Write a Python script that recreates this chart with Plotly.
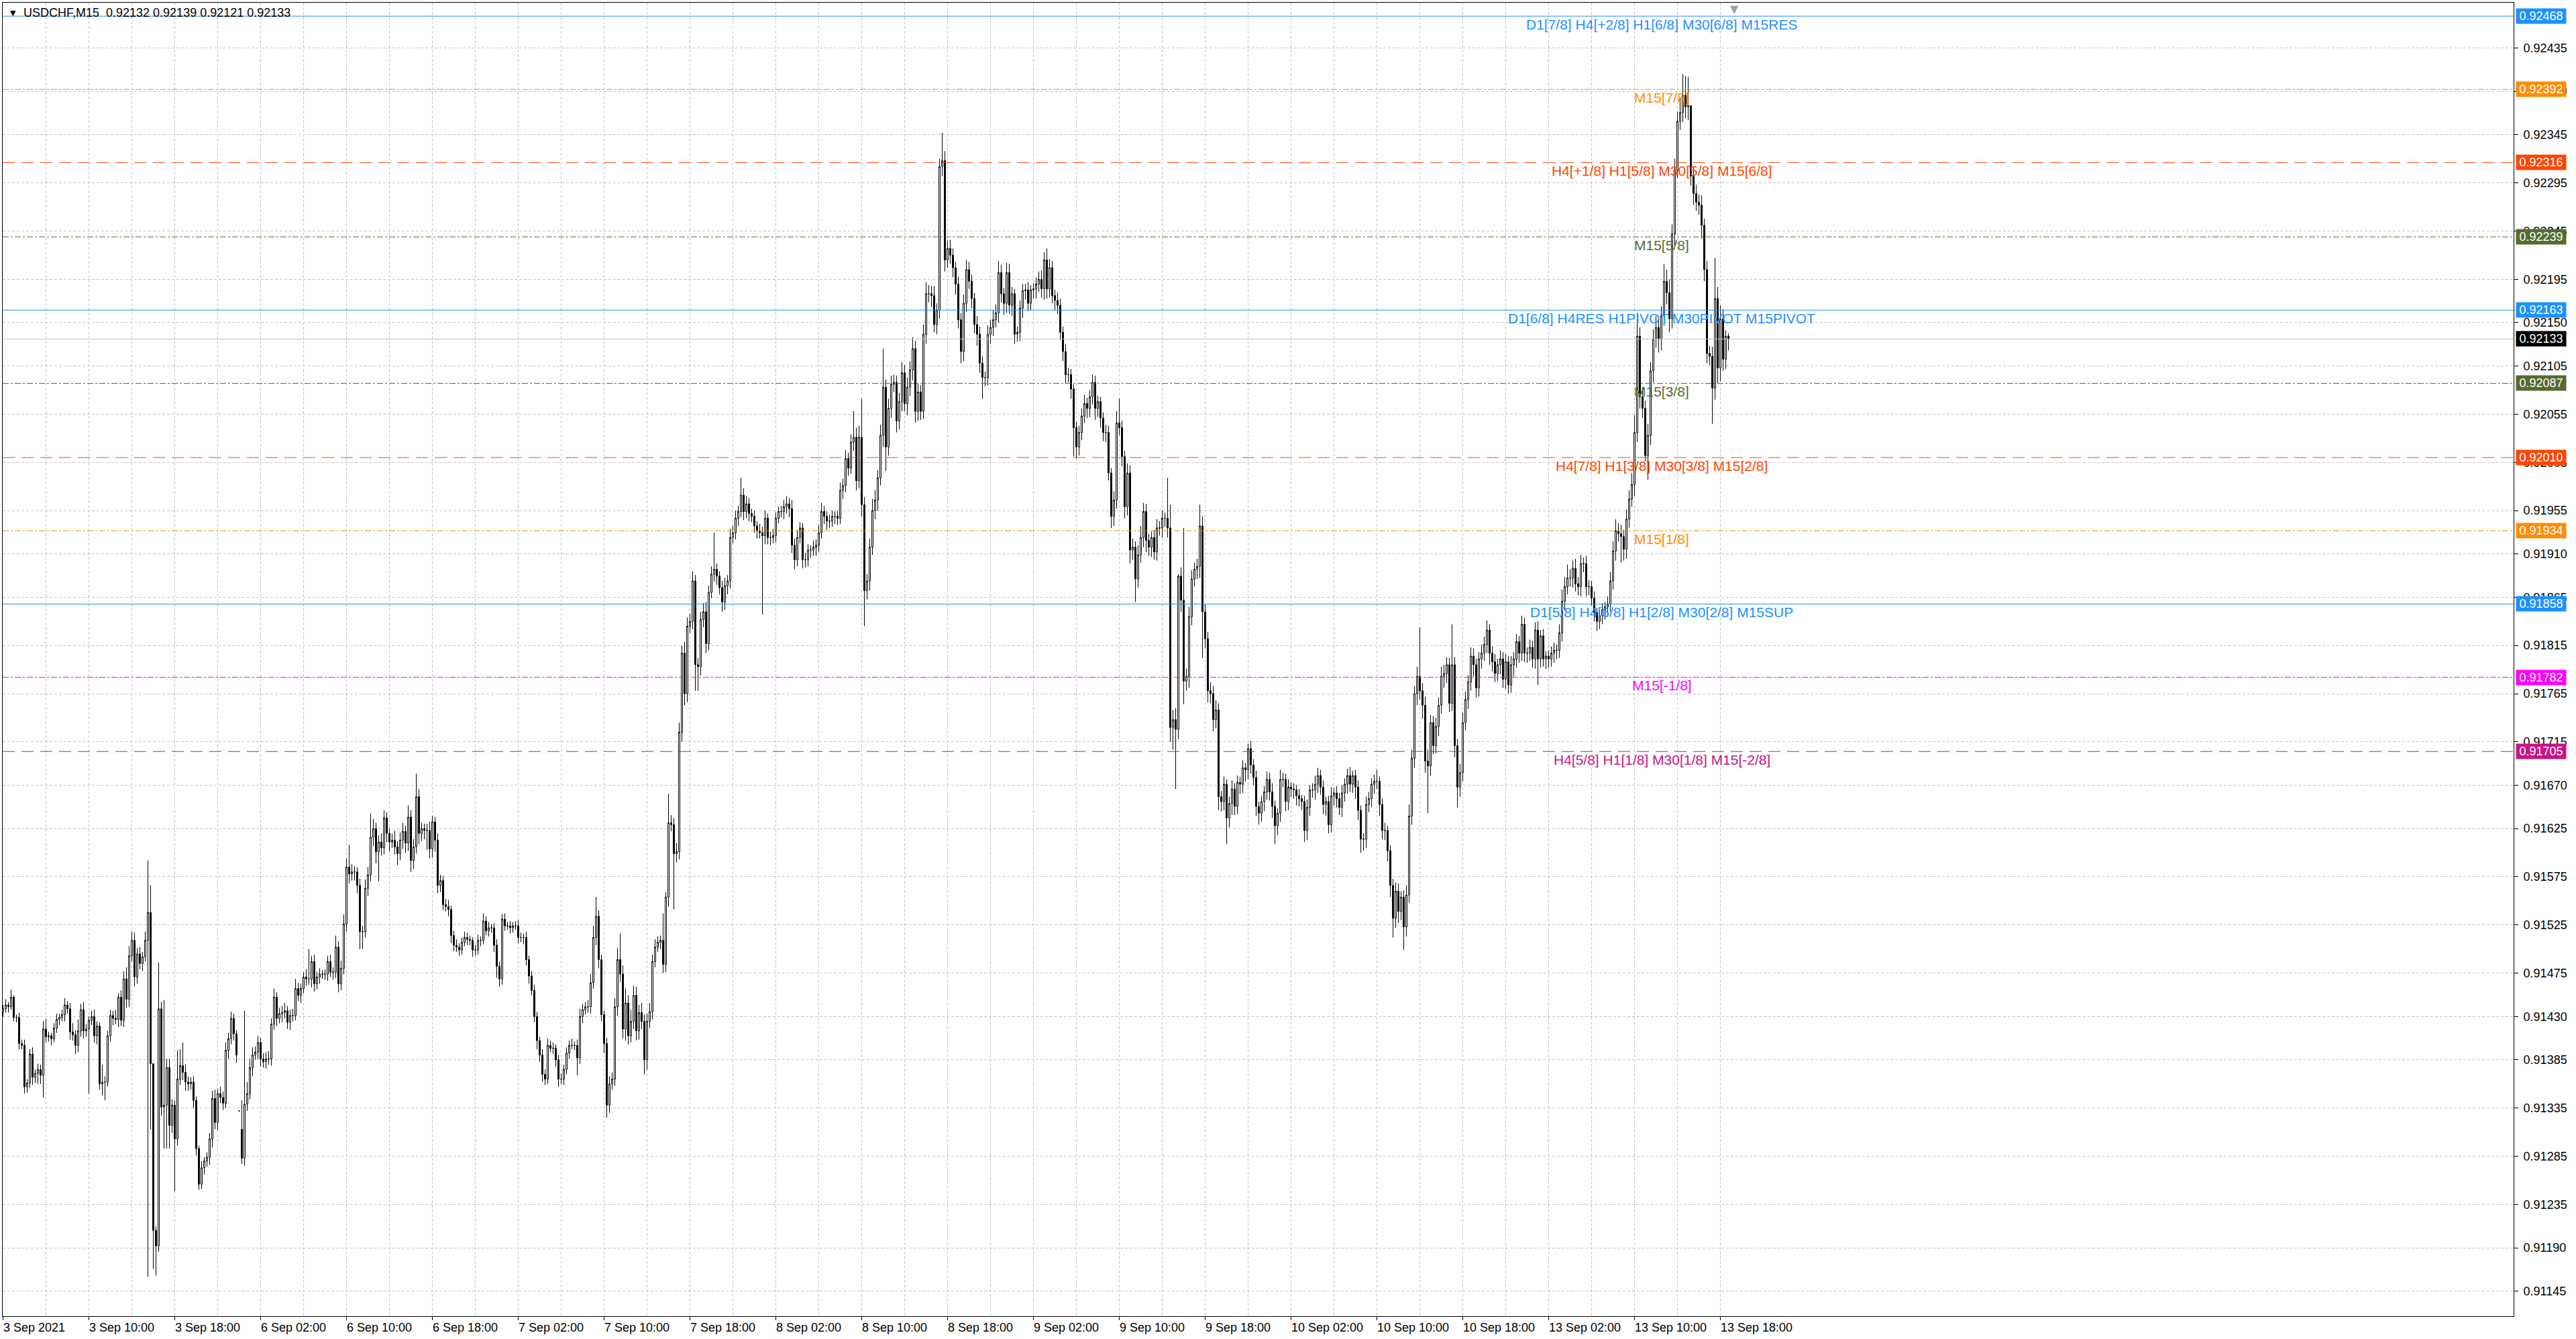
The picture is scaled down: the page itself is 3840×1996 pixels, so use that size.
import pandas as pd
import plotly.graph_objects as go

# USDCHF M15, broker time. Prices kept in points above 0.91000 (1 point = 0.00001)
sessions = [("2021-09-03 02:00", 88), ("2021-09-06 00:00", 96), ("2021-09-07 00:00", 96),
            ("2021-09-08 00:00", 96), ("2021-09-09 00:00", 96), ("2021-09-10 00:00", 96),
            ("2021-09-13 00:00", 76)]

close_pts = [
    438, 442, 440, 450, 429, 429, 402, 400, 357, 361,
    391, 367, 371, 375, 369, 417, 409, 410, 407, 418,
    427, 429, 432, 442, 438, 414, 411, 400, 415, 437,
    415, 417, 426, 430, 410, 420, 360, 362, 362, 410,
    431, 428, 427, 450, 426, 469, 448, 493, 509, 471,
    495, 485, 492, 509, 538, 381, 208, 192, 438, 336,
    338, 377, 317, 338, 303, 365, 379, 372, 362, 360,
    362, 343, 293, 256, 273, 280, 284, 303, 345, 320,
    350, 346, 340, 395, 407, 428, 412, 390, 332, 283,
    339, 350, 377, 390, 393, 403, 386, 383, 386, 386,
    422, 450, 428, 433, 434, 436, 424, 431, 431, 459,
    452, 459, 471, 469, 469, 487, 464, 471, 474, 474,
    474, 487, 476, 476, 502, 464, 480, 526, 585, 578,
    580, 580, 566, 518, 518, 563, 577, 616, 625, 601,
    611, 605, 636, 620, 611, 613, 606, 599, 613, 622,
    610, 637, 592, 606, 658, 620, 625, 623, 623, 604,
    632, 613, 566, 571, 546, 544, 541, 514, 504, 502,
    499, 507, 512, 510, 509, 499, 499, 509, 509, 529,
    519, 522, 522, 504, 482, 469, 531, 524, 524, 522,
    524, 524, 512, 512, 512, 489, 472, 457, 430, 405,
    390, 370, 365, 400, 397, 397, 385, 365, 365, 375,
    392, 400, 400, 400, 387, 430, 437, 440, 440, 465,
    512, 534, 489, 432, 402, 338, 360, 365, 440, 489,
    474, 417, 444, 410, 425, 452, 415, 434, 425, 385,
    425, 435, 487, 502, 507, 509, 484, 554, 631, 629,
    599, 601, 725, 807, 765, 835, 840, 882, 795, 793,
    842, 850, 817, 870, 889, 894, 887, 875, 860, 877,
    882, 927, 932, 947, 954, 971, 954, 962, 952, 949,
    939, 934, 932, 929, 947, 927, 927, 929, 947, 954,
    954, 959, 962, 957, 919, 904, 927, 937, 904, 904,
    914, 914, 917, 919, 932, 954, 949, 944, 944, 949,
    949, 947, 976, 981, 1009, 999, 1026, 1031, 986, 1031,
    961, 872, 882, 917, 955, 966, 989, 1033, 1083, 1021,
    1061, 1086, 1088, 1048, 1068, 1098, 1066, 1083, 1101, 1123,
    1058, 1078, 1058, 1138, 1180, 1180, 1178, 1148, 1163, 1312,
    1318, 1215, 1227, 1220, 1207, 1190, 1153, 1120, 1170, 1205,
    1193, 1175, 1148, 1138, 1108, 1093, 1093, 1138, 1145, 1153,
    1160, 1202, 1180, 1170, 1202, 1168, 1180, 1138, 1140, 1165,
    1183, 1184, 1170, 1184, 1185, 1190, 1195, 1185, 1215, 1185,
    1207, 1178, 1173, 1168, 1140, 1120, 1096, 1096, 1081, 1041,
    1021, 1036, 1053, 1066, 1061, 1073, 1088, 1061, 1068, 1051,
    1036, 1036, 994, 949, 966, 1046, 1041, 1011, 959, 994,
    914, 917, 884, 909, 927, 954, 924, 917, 927, 912,
    937, 937, 947, 947, 937, 730, 738, 728, 887, 862,
    778, 783, 845, 884, 894, 897, 939, 850, 822, 768,
    765, 738, 748, 658, 653, 671, 636, 651, 666, 648,
    673, 671, 688, 686, 708, 691, 678, 648, 641, 653,
    663, 676, 663, 648, 628, 641, 676, 676, 653, 668,
    666, 665, 659, 656, 653, 623, 647, 665, 665, 671,
    680, 668, 650, 653, 629, 659, 662, 656, 647, 662,
    671, 680, 671, 680, 668, 644, 614, 614, 650, 656,
    671, 674, 674, 650, 623, 623, 602, 566, 532, 560,
    539, 554, 523, 556, 638, 698, 765, 783, 768, 753,
    695, 690, 735, 711, 731, 753, 783, 786, 795, 755,
    795, 711, 668, 683, 735, 759, 777, 804, 795, 771,
    801, 807, 816, 831, 807, 798, 786, 795, 801, 780,
    798, 774, 795, 801, 819, 807, 837, 807, 807, 813,
    801, 831, 801, 825, 801, 804, 801, 807, 810, 810,
    828, 861, 876, 885, 885, 895, 879, 876, 900, 900,
    876, 876, 864, 849, 840, 846, 852, 855, 858, 882,
    913, 934, 931, 928, 915, 946, 967, 982, 1036, 1136,
    1073, 1061, 1012, 1033, 1100, 1133, 1145, 1133, 1157, 1193,
    1181, 1154, 1242, 1308, 1359, 1368, 1386, 1374, 1375, 1302,
    1284, 1275, 1272, 1251, 1205, 1118, 1115, 1082, 1175, 1103,
    1154, 1112, 1136, 1133,
]

# upper / lower shadow length of each candle, in points
wick_up = [
    4, 6, 3, 8, 2, 3, 5, 4, 6, 4,
    5, 7, 4, 6, 5, 8, 10, 4, 3, 5,
    6, 4, 5, 7, 4, 6, 9, 5, 12, 6,
    8, 5, 4, 6, 7, 5, 4, 18, 6, 5,
    6, 5, 9, 4, 7, 8, 12, 10, 9, 8,
    6, 7, 5, 9, 54, 28, 0, 4, 48, 7,
    109, 9, 9, 6, 5, 30, 17, 24, 8, 6,
    5, 6, 4, 3, 7, 4, 5, 6, 8, 9,
    5, 7, 6, 8, 6, 7, 5, 4, 0, 30,
    97, 12, 9, 8, 6, 7, 5, 6, 7, 8,
    6, 9, 5, 6, 7, 8, 5, 6, 7, 10,
    6, 5, 5, 8, 31, 6, 7, 5, 6, 4,
    5, 6, 7, 5, 12, 6, 8, 10, 9, 23,
    8, 6, 5, 7, 6, 9, 8, 25, 10, 6,
    7, 9, 8, 6, 5, 7, 10, 6, 8, 9,
    6, 12, 7, 8, 24, 8, 6, 5, 7, 9,
    6, 5, 7, 6, 5, 6, 7, 4, 5, 6,
    4, 5, 6, 5, 4, 3, 5, 6, 4, 8,
    5, 6, 4, 5, 6, 5, 5, 6, 4, 5,
    4, 5, 6, 5, 4, 6, 4, 5, 6, 5,
    4, 6, 5, 7, 5, 6, 4, 5, 6, 5,
    6, 5, 7, 4, 6, 8, 6, 5, 7, 9,
    12, 20, 6, 5, 4, 6, 8, 7, 9, 12,
    27, 9, 15, 8, 12, 10, 9, 8, 10, 7,
    8, 9, 7, 8, 6, 5, 28, 5, 30, 8,
    7, 9, 10, 8, 12, 9, 8, 10, 6, 7,
    8, 9, 10, 7, 8, 38, 6, 5, 7, 8,
    6, 9, 7, 8, 6, 18, 7, 8, 6, 5,
    6, 5, 7, 6, 8, 5, 6, 7, 6, 5,
    6, 7, 8, 6, 9, 7, 8, 6, 5, 7,
    6, 5, 7, 6, 8, 9, 6, 5, 7, 6,
    5, 6, 8, 7, 9, 6, 8, 27, 10, 12,
    40, 8, 7, 9, 12, 10, 8, 11, 40, 8,
    10, 9, 8, 7, 9, 11, 8, 10, 9, 12,
    8, 9, 7, 10, 12, 9, 8, 10, 7, 8,
    29, 10, 8, 9, 7, 6, 8, 7, 9, 10,
    8, 7, 6, 9, 8, 7, 6, 9, 8, 10,
    9, 12, 8, 6, 10, 9, 7, 5, 6, 8,
    7, 6, 8, 5, 6, 7, 8, 9, 8, 12,
    9, 7, 6, 8, 7, 6, 8, 7, 6, 5,
    6, 7, 8, 9, 6, 7, 8, 7, 6, 5,
    6, 8, 7, 5, 9, 12, 25, 7, 6, 10,
    8, 9, 6, 10, 12, 9, 8, 7, 6, 8,
    9, 7, 8, 6, 42, 24, 10, 12, 2, 9,
    75, 8, 10, 9, 7, 8, 22, 10, 8, 7,
    9, 8, 10, 7, 6, 8, 5, 7, 9, 6,
    7, 6, 8, 5, 5, 8, 6, 7, 5, 6,
    6, 8, 7, 9, 6, 5, 10, 7, 6, 8,
    5, 6, 5, 7, 4, 6, 8, 5, 7, 9,
    8, 6, 7, 5, 6, 9, 5, 7, 6, 8,
    6, 7, 9, 5, 6, 7, 5, 6, 8, 7,
    6, 7, 12, 5, 6, 8, 5, 6, 7, 9,
    8, 6, 7, 10, 12, 9, 8, 10, 51, 8,
    9, 12, 8, 7, 9, 8, 10, 9, 8, 7,
    42, 8, 7, 9, 10, 8, 7, 9, 8, 6,
    7, 9, 8, 10, 6, 7, 8, 6, 9, 7,
    8, 6, 9, 7, 8, 6, 9, 7, 6, 8,
    7, 8, 9, 6, 7, 5, 6, 7, 8, 6,
    9, 12, 10, 14, 9, 8, 10, 7, 9, 6,
    8, 7, 6, 7, 5, 6, 7, 5, 8, 9,
    10, 12, 8, 9, 7, 10, 9, 12, 18, 24,
    9, 10, 8, 12, 9, 10, 12, 8, 10, 18,
    12, 14, 10, 12, 10, 15, 22, 20, 30, 0,
    10, 9, 8, 10, 7, 9, 8, 10, 42, 12,
    14, 10, 6, 3,
]

wick_dn = [
    5, 4, 6, 3, 4, 5, 6, 4, 7, 6,
    5, 8, 6, 11, 9, 23, 6, 5, 7, 4,
    5, 6, 4, 7, 5, 8, 6, 9, 7, 6,
    8, 6, 67, 5, 7, 9, 6, 12, 19, 5,
    6, 7, 5, 8, 6, 7, 9, 8, 6, 10,
    7, 6, 8, 5, 349, 68, 40, 31, 6, 9,
    43, 45, 24, 8, 54, 7, 6, 8, 9, 7,
    6, 8, 7, 6, 5, 7, 6, 8, 9, 7,
    8, 6, 7, 5, 9, 6, 7, 8, 0, 6,
    8, 7, 6, 9, 5, 7, 8, 6, 7, 6,
    7, 6, 8, 5, 9, 6, 7, 8, 6, 5,
    6, 8, 5, 7, 6, 9, 8, 6, 7, 5,
    6, 7, 5, 8, 6, 9, 7, 6, 8, 10,
    7, 9, 8, 18, 18, 6, 8, 7, 9, 12,
    31, 8, 7, 9, 10, 6, 8, 12, 7, 9,
    10, 8, 12, 9, 7, 11, 8, 9, 20, 10,
    9, 12, 8, 7, 6, 5, 7, 8, 6, 5,
    6, 5, 4, 6, 5, 7, 6, 5, 6, 4,
    5, 6, 5, 7, 12, 8, 6, 5, 4, 6,
    5, 4, 6, 5, 7, 6, 8, 5, 6, 9,
    7, 8, 6, 5, 4, 6, 7, 8, 5, 6,
    5, 6, 4, 5, 18, 6, 7, 5, 6, 7,
    6, 8, 9, 7, 10, 13, 8, 6, 7, 9,
    8, 10, 12, 9, 7, 8, 10, 9, 8, 15,
    10, 7, 8, 6, 5, 7, 9, 8, 10, 7,
    58, 9, 8, 10, 12, 9, 7, 8, 27, 25,
    9, 8, 10, 7, 6, 8, 9, 7, 10, 8,
    9, 8, 6, 7, 8, 6, 9, 7, 8, 6,
    7, 8, 6, 82, 9, 7, 8, 6, 7, 5,
    6, 8, 7, 9, 8, 10, 7, 6, 9, 8,
    7, 8, 6, 9, 7, 6, 8, 9, 7, 6,
    8, 7, 6, 9, 7, 8, 6, 9, 10, 8,
    12, 37, 9, 10, 8, 9, 11, 8, 12, 25,
    9, 10, 8, 12, 9, 10, 8, 12, 9, 11,
    12, 10, 9, 8, 10, 9, 12, 8, 10, 9,
    10, 12, 8, 9, 10, 11, 9, 12, 10, 9,
    8, 10, 9, 12, 10, 22, 9, 8, 10, 9,
    8, 10, 9, 12, 10, 9, 11, 10, 8, 9,
    10, 9, 8, 7, 9, 10, 8, 9, 11, 10,
    9, 8, 10, 9, 8, 10, 9, 8, 10, 30,
    12, 9, 8, 7, 10, 9, 8, 12, 9, 10,
    9, 10, 8, 12, 10, 9, 8, 10, 12, 9,
    14, 10, 24, 9, 8, 10, 12, 9, 10, 8,
    9, 8, 10, 9, 10, 15, 23, 62, 10, 12,
    24, 10, 12, 9, 8, 10, 12, 48, 10, 12,
    10, 12, 9, 14, 10, 9, 27, 10, 12, 9,
    8, 10, 9, 12, 10, 9, 8, 10, 12, 9,
    10, 8, 9, 12, 19, 10, 9, 8, 10, 9,
    8, 9, 10, 8, 9, 12, 10, 9, 8, 10,
    9, 8, 10, 12, 9, 8, 10, 9, 8, 10,
    9, 10, 8, 9, 12, 10, 14, 12, 9, 8,
    9, 10, 8, 12, 9, 10, 11, 12, 20, 10,
    12, 9, 24, 10, 8, 9, 10, 12, 9, 14,
    12, 49, 10, 9, 8, 10, 9, 12, 10, 9,
    8, 12, 21, 10, 9, 8, 10, 9, 12, 10,
    9, 10, 8, 9, 12, 10, 9, 8, 10, 9,
    10, 9, 8, 12, 9, 10, 8, 9, 10, 8,
    9, 10, 27, 9, 8, 10, 9, 8, 10, 9,
    8, 9, 10, 8, 9, 10, 8, 9, 10, 9,
    10, 9, 8, 9, 10, 8, 9, 10, 9, 8,
    9, 10, 8, 27, 12, 10, 9, 8, 12, 10,
    12, 10, 6, 25, 10, 12, 9, 14, 12, 10,
    12, 14, 10, 12, 8, 9, 10, 12, 14, 10,
    12, 9, 10, 14, 12, 10, 9, 37, 12, 16,
    14, 12, 10, 12,
]

first_open_pts = 435
gap_opens_pts = {88: 332, 89: 313}   # Monday re-open

x_tick_labels = ["3 Sep 2021", "3 Sep 10:00", "3 Sep 18:00", "6 Sep 02:00", "6 Sep 10:00",
                 "6 Sep 18:00", "7 Sep 02:00", "7 Sep 10:00", "7 Sep 18:00", "8 Sep 02:00",
                 "8 Sep 10:00", "8 Sep 18:00", "9 Sep 02:00", "9 Sep 10:00", "9 Sep 18:00",
                 "10 Sep 02:00", "10 Sep 10:00", "10 Sep 18:00", "13 Sep 02:00", "13 Sep 10:00",
                 "13 Sep 18:00"]

y_tick_labels = ["0.92435", "0.92390", "0.92345", "0.92295", "0.92245", "0.92195", "0.92150",
                 "0.92105", "0.92055", "0.92005", "0.91955", "0.91910", "0.91865", "0.91815",
                 "0.91765", "0.91715", "0.91670", "0.91625", "0.91575", "0.91525", "0.91475",
                 "0.91430", "0.91385", "0.91335", "0.91285", "0.91235", "0.91190", "0.91145"]

level_prices = [0.92468, 0.92392, 0.92316, 0.92239, 0.92163, 0.92087,
                0.92010, 0.91934, 0.91858, 0.91782, 0.91705]
level_texts = ["D1[7/8] H4[+2/8] H1[6/8] M30[6/8] M15RES",
               "M15[7/8]",
               "H4[+1/8] H1[5/8] M30[5/8] M15[6/8]",
               "M15[5/8]",
               "D1[6/8] H4RES H1PIVOT M30PIVOT M15PIVOT",
               "M15[3/8]",
               "H4[7/8] H1[3/8] M30[3/8] M15[2/8]",
               "M15[1/8]",
               "D1[5/8] H4[6/8] H1[2/8] M30[2/8] M15SUP",
               "M15[-1/8]",
               "H4[5/8] H1[1/8] M30[1/8] M15[-2/8]"]

title_text = "USDCHF,M15  0.92132 0.92139 0.92121 0.92133"

# ---- styles ----
BLUE, ORANGE, ORED, OLIVE, MAGENTA, MVRED = "#1E90FF", "#FF8C00", "#FF4500", "#556B2F", "#FF00FF", "#C71585"
LONGDASH = "18px,10px"
level_style = [(BLUE, "solid"), (ORANGE, "dashdot"), (ORED, LONGDASH), (OLIVE, "dashdot"),
               (BLUE, "solid"), (OLIVE, "dashdot"), (ORED, LONGDASH), (ORANGE, "dashdot"),
               (BLUE, "solid"), (MAGENTA, "dashdot"), (MVRED, LONGDASH)]
GRID = "#c4c4c4"
AXFONT = dict(family="Liberation Sans, Arial, sans-serif", size=18, color="black")

times = []
for start, n in sessions:
    times += list(pd.date_range(start, periods=n, freq="15min").strftime("%Y-%m-%d %H:%M"))

n = len(times)
assert len(close_pts) == n and len(wick_up) == n and len(wick_dn) == n, (n, len(close_pts), len(wick_up), len(wick_dn))

open_pts = []
for i in range(n):
    if i == 0:
        open_pts.append(first_open_pts)
    else:
        open_pts.append(gap_opens_pts.get(i, close_pts[i - 1]))

def px(p):
    return round(0.91 + p / 100000, 5)

opens = [px(o) for o in open_pts]
closes = [px(c) for c in close_pts]
highs = [px(max(o, c) + u) for o, c, u in zip(open_pts, close_pts, wick_up)]
lows = [px(min(o, c) - d) for o, c, d in zip(open_pts, close_pts, wick_dn)]

fig = go.Figure()
fig.add_trace(go.Candlestick(
    x=times, open=opens, high=highs, low=lows, close=closes,
    increasing=dict(fillcolor="white", line=dict(color="black", width=1)),
    decreasing=dict(fillcolor="black", line=dict(color="black", width=1)),
    whiskerwidth=0, showlegend=False, hoverinfo="x+y",
))

shapes = []
annotations = []

# level lines, their captions and right-hand price boxes
for price, text, (color, dash) in zip(level_prices, level_texts, level_style):
    shapes.append(dict(type="line", xref="paper", x0=0, x1=1, yref="y", y0=price, y1=price,
                       line=dict(color=color, width=1, dash=dash)))
    annotations.append(dict(xref="paper", x=0.6607, xanchor="center", yref="y", y=price,
                            yanchor="middle", yshift=-12, text=text, showarrow=False,
                            font=dict(family="Liberation Sans, Arial, sans-serif", size=21, color=color)))
    annotations.append(dict(xref="paper", x=1, xanchor="left", xshift=3, yref="y", y=price,
                            yanchor="middle", text=f"{price:.5f}", showarrow=False, bgcolor=color,
                            width=72, height=20, borderpad=1,
                            font=dict(family="Liberation Sans, Arial, sans-serif", size=18, color="white")))

# current bid line
last = closes[-1]
shapes.append(dict(type="line", xref="paper", x0=0, x1=1, yref="y", y0=last, y1=last,
                   line=dict(color="#C0C0C0", width=1)))
annotations.append(dict(xref="paper", x=1, xanchor="left", xshift=3, yref="y", y=last,
                        yanchor="middle", text=f"{last:.5f}", showarrow=False, bgcolor="black",
                        width=72, height=20, borderpad=1,
                        font=dict(family="Liberation Sans, Arial, sans-serif", size=18, color="white")))

# time labels, left aligned at their bar like the terminal does
for k, lab in enumerate(x_tick_labels):
    idx = k * 32
    annotations.append(dict(xref="x", x=idx, xanchor="left", xshift=-2, yref="paper", y=0,
                            yanchor="top", yshift=-5, text=lab, showarrow=False, font=AXFONT))
    shapes.append(dict(type="line", xref="x", x0=idx, x1=idx, yref="paper", ysizemode="pixel",
                       yanchor=0, y0=0, y1=-6, line=dict(color="black", width=1)))

# chart header
annotations.append(dict(xref="paper", x=0.00775, xanchor="left", yref="paper", y=0.9923,
                        yanchor="middle", text=title_text, showarrow=False, font=AXFONT))
annotations.append(dict(xref="paper", x=0.0024, xanchor="left", yref="paper", y=0.9923,
                        yanchor="middle", text="▼", showarrow=False,
                        font=dict(family="DejaVu Sans", size=11, color="black")))
# chart-shift marker
annotations.append(dict(xref="paper", x=0.6896, xanchor="center", yref="paper", y=1,
                        yanchor="top", yshift=2, text="▼", showarrow=False,
                        font=dict(family="DejaVu Sans", size=16, color="#a0a0a0")))

fig.update_layout(
    width=3840, height=1996,
    margin=dict(l=4, r=93, t=4, b=34, pad=0),
    paper_bgcolor="white", plot_bgcolor="white",
    shapes=shapes, annotations=annotations,
    showlegend=False,
)
fig.update_xaxes(
    type="category", range=[-0.125, 935.6],
    tickvals=times[::16], showticklabels=False, ticks="",
    showgrid=True, gridcolor=GRID, griddash="4px,3px", gridwidth=1,
    showline=True, linecolor="black", linewidth=1, mirror=True,
    rangeslider=dict(visible=False),
)
fig.update_yaxes(
    side="right", range=[0.91119, 0.92482],
    tickvals=[float(t) for t in y_tick_labels], ticktext=y_tick_labels,
    ticks="outside", ticklen=6, tickcolor="black", ticklabelstandoff=4, tickfont=AXFONT,
    showgrid=True, gridcolor=GRID, griddash="4px,3px", gridwidth=1,
    showline=True, linecolor="black", linewidth=1, mirror=True, zeroline=False,
)

# the page's default body margin would push the fixed-size figure off by 8px
fig.write_html("out.html", config={"displayModeBar": False},
               post_script="document.body.style.margin='0px';")
